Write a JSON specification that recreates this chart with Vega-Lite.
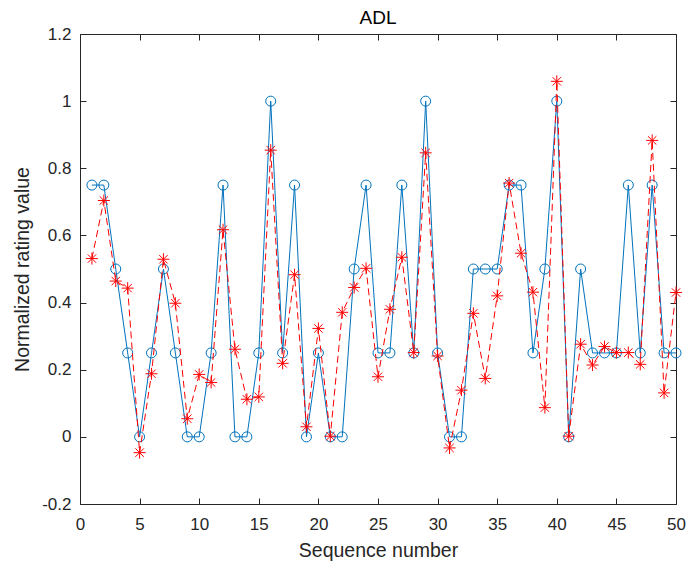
{
  "$schema": "https://vega.github.io/schema/vega-lite/v6.json",
  "width": 596,
  "height": 470,
  "autosize": "none",
  "padding": {"left": 80, "top": 34, "right": 10, "bottom": 60},
  "background": "white",
  "title": {"text": "ADL", "fontSize": 19, "fontWeight": "normal", "font": "Liberation Sans", "color": "#000000", "offset": -3},
  "config": {
    "view": {"stroke": null},
    "axis": {
      "font": "Liberation Sans",
      "labelFont": "Liberation Sans",
      "titleFont": "Liberation Sans",
      "labelFontSize": 17,
      "titleFontSize": 19.5,
      "titleFontWeight": "normal",
      "labelColor": "#262626",
      "titleColor": "#262626",
      "domainColor": "#262626",
      "tickColor": "#262626",
      "domainWidth": 1,
      "tickWidth": 1,
      "grid": false
    }
  },
  "data": {"values": [
    {"x": 1, "a": 0.75, "p": 0.531},
    {"x": 2, "a": 0.75, "p": 0.704},
    {"x": 3, "a": 0.5, "p": 0.464},
    {"x": 4, "a": 0.25, "p": 0.443},
    {"x": 5, "a": 0, "p": -0.047},
    {"x": 6, "a": 0.25, "p": 0.188},
    {"x": 7, "a": 0.5, "p": 0.529},
    {"x": 8, "a": 0.25, "p": 0.398},
    {"x": 9, "a": 0, "p": 0.054},
    {"x": 10, "a": 0, "p": 0.186},
    {"x": 11, "a": 0.25, "p": 0.162},
    {"x": 12, "a": 0.75, "p": 0.617},
    {"x": 13, "a": 0, "p": 0.261},
    {"x": 14, "a": 0, "p": 0.112},
    {"x": 15, "a": 0.25, "p": 0.119},
    {"x": 16, "a": 1.0, "p": 0.854},
    {"x": 17, "a": 0.25, "p": 0.219},
    {"x": 18, "a": 0.75, "p": 0.483},
    {"x": 19, "a": 0, "p": 0.030},
    {"x": 20, "a": 0.25, "p": 0.323},
    {"x": 21, "a": 0, "p": 0.002},
    {"x": 22, "a": 0, "p": 0.371},
    {"x": 23, "a": 0.5, "p": 0.445},
    {"x": 24, "a": 0.75, "p": 0.502},
    {"x": 25, "a": 0.25, "p": 0.179},
    {"x": 26, "a": 0.25, "p": 0.380},
    {"x": 27, "a": 0.75, "p": 0.535},
    {"x": 28, "a": 0.25, "p": 0.251},
    {"x": 29, "a": 1.0, "p": 0.846},
    {"x": 30, "a": 0.25, "p": 0.241},
    {"x": 31, "a": 0, "p": -0.033},
    {"x": 32, "a": 0, "p": 0.139},
    {"x": 33, "a": 0.5, "p": 0.368},
    {"x": 34, "a": 0.5, "p": 0.174},
    {"x": 35, "a": 0.5, "p": 0.420},
    {"x": 36, "a": 0.75, "p": 0.756},
    {"x": 37, "a": 0.75, "p": 0.547},
    {"x": 38, "a": 0.25, "p": 0.431},
    {"x": 39, "a": 0.5, "p": 0.087},
    {"x": 40, "a": 1.0, "p": 1.059},
    {"x": 41, "a": 0, "p": 0.002},
    {"x": 42, "a": 0.5, "p": 0.276},
    {"x": 43, "a": 0.25, "p": 0.214},
    {"x": 44, "a": 0.25, "p": 0.269},
    {"x": 45, "a": 0.25, "p": 0.251},
    {"x": 46, "a": 0.75, "p": 0.251},
    {"x": 47, "a": 0.25, "p": 0.216},
    {"x": 48, "a": 0.75, "p": 0.883},
    {"x": 49, "a": 0.25, "p": 0.131},
    {"x": 50, "a": 0.25, "p": 0.430}
  ]},
  "resolve": {"axis": {"x": "independent", "y": "independent"}},
  "layer": [
    {
      "mark": {"type": "line", "color": "#0072BD", "strokeWidth": 1},
      "encoding": {
        "x": {"field": "x", "type": "quantitative", "scale": {"domain": [0, 50], "nice": false, "zero": false},
              "axis": {"orient": "bottom", "values": [0,5,10,15,20,25,30,35,40,45,50], "tickSize": -6, "labelPadding": 18, "title": "Sequence number", "titlePadding": 9, "labelFlush": false}},
        "y": {"field": "a", "type": "quantitative", "scale": {"domain": [-0.2, 1.2], "nice": false, "zero": false},
              "axis": {"orient": "left", "values": [-0.2,0,0.2,0.4,0.6,0.8,1,1.2], "tickSize": -6, "labelPadding": 15, "title": "Normalized rating value", "titlePadding": 9, "labelFlush": false,
                       "labelExpr": "datum.value < 0 ? '-' + format(-datum.value, '~g') : format(datum.value, '~g')"}}
      }
    },
    {
      "mark": {"type": "point", "shape": "circle", "filled": false, "color": "#0072BD", "size": 100, "strokeWidth": 1, "opacity": 1},
      "encoding": {
        "x": {"field": "x", "type": "quantitative", "axis": null},
        "y": {"field": "a", "type": "quantitative", "axis": null}
      }
    },
    {
      "mark": {"type": "line", "color": "#FF0000", "strokeWidth": 1, "strokeDash": [7, 4]},
      "encoding": {
        "x": {"field": "x", "type": "quantitative", "axis": null},
        "y": {"field": "p", "type": "quantitative", "axis": null}
      }
    },
    {
      "mark": {"type": "point", "shape": "M0,-1L0,1M-1,0L1,0M-0.7,-0.7L0.7,0.7M-0.7,0.7L0.7,-0.7", "filled": false, "color": "#FF0000", "size": 144, "strokeWidth": 1, "opacity": 1},
      "encoding": {
        "x": {"field": "x", "type": "quantitative",
              "axis": {"orient": "top", "values": [0,5,10,15,20,25,30,35,40,45,50], "tickSize": -6, "labels": false, "title": null}},
        "y": {"field": "p", "type": "quantitative",
              "axis": {"orient": "right", "values": [-0.2,0,0.2,0.4,0.6,0.8,1,1.2], "tickSize": -6, "labels": false, "title": null}}
      }
    }
  ]
}
